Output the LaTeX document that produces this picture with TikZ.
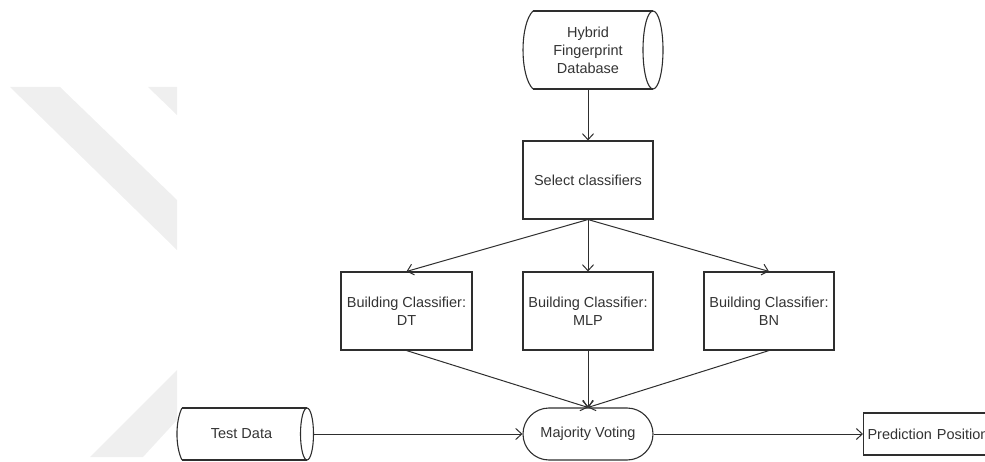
\documentclass[tikz,border=0pt]{standalone}
\usepackage{fontspec}
\setmainfont{Liberation Sans}
\usetikzlibrary{arrows.meta}
\definecolor{ink}{HTML}{2E2E2E}
\definecolor{txt}{HTML}{333333}
\definecolor{wm}{HTML}{EFEFEF}
\begin{document}
\begin{tikzpicture}[x=1pt,y=-1pt,
  every node/.style={font=\fontsize{14.5}{18}\selectfont, text=txt, inner sep=0pt, align=center},
  box/.style={draw=ink, line width=1.1pt, minimum width=130pt, minimum height=78pt},
  flow/.style={draw=ink, line width=1pt, -{Straight Barb[length=6pt,width=11pt]}},
  outline/.style={draw=ink, line width=1.1pt}]
\useasboundingbox (0,0) rectangle (985,462);

% faint background mark
\fill[wm] (10,87) -- (60,87) -- (177,200) -- (177,250) -- cycle;
\fill[wm] (148,87) -- (177,87) -- (177,115) -- cycle;
\fill[wm] (177,370) -- (177,420) -- (143,457) -- (90,457) -- cycle;

% database cylinder
\draw[outline] (533,11) -- (653,11) (533,89) -- (653,89);
\draw[outline] (533,11) .. controls (519.7,24) and (519.7,76) .. (533,89);
\draw[outline] (653,50) ellipse [x radius=10, y radius=39];
\node (db) [minimum width=130pt, minimum height=78pt] at (588,50) {Hybrid\\Fingerprint\\Database};

% classifier selection and the three classifiers
\node (sel) [box] at (588,180) {Select classifiers};
\node (dt)  [box, minimum width=131pt] at (406.5,311) {Building Classifier:\\DT};
\node (mlp) [box] at (588,311) {Building Classifier:\\MLP};
\node (bn)  [box] at (769,311) {Building Classifier:\\BN};

% test data cylinder
\draw[outline] (182,408) -- (307,408) (182,460) -- (307,460);
\draw[outline] (182,408) .. controls (175.3,421) and (175.3,447) .. (182,460);
\draw[outline] (307,434) ellipse [x radius=6.5, y radius=26];
\node (td) [minimum width=145pt, minimum height=52pt] at (241.5,434) {Test Data};

% voting and result
\node (mv) [draw=ink, line width=1.1pt, rounded corners=26pt, minimum width=130pt, minimum height=52pt] at (588,434) {Majority Voting};
\node (pp) [draw=ink, line width=1.1pt, anchor=west, minimum height=42pt, text width=142pt, inner xsep=4pt, align=left] at (863,434) {Prediction Position};

% connectors
\draw[flow] (db.south) -- (sel.north);
\draw[flow] (sel.south) -- (dt.north);
\draw[flow] (sel.south) -- (mlp.north);
\draw[flow] (sel.south) -- (bn.north);
\draw[flow] (dt.south) -- (mv.north);
\draw[flow] (mlp.south) -- (mv.north);
\draw[flow] (bn.south) -- (mv.north);
\draw[flow] (td.east) -- (mv.west);
\draw[flow] (mv.east) -- (pp.west);
\end{tikzpicture}
\end{document}
